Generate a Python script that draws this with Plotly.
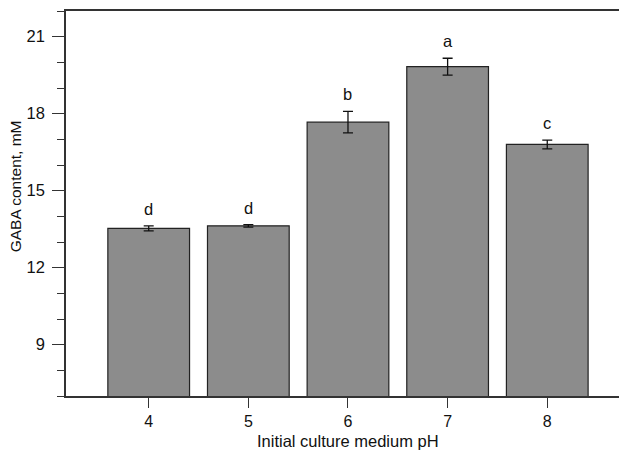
import plotly.graph_objects as go

# GABA content by initial culture medium pH
ph_values = [4, 5, 6, 7, 8]
gaba_mM = [13.53, 13.63, 17.67, 19.83, 16.80]
gaba_sd = [0.10, 0.05, 0.42, 0.33, 0.17]
group_letters = ["d", "d", "b", "a", "c"]
y_ticks = [9, 12, 15, 18, 21]

FONT = "Liberation Sans, Arial, Helvetica, sans-serif"
AXIS_COLOR = "#333333"
TEXT_SIZE = 16.5

fig = go.Figure()
fig.add_trace(go.Bar(
    x=ph_values,
    y=gaba_mM,
    width=0.82,
    marker=dict(color="#8c8c8c", line=dict(color="#222222", width=1.2)),
    error_y=dict(type="data", array=gaba_sd, visible=True,
                 color="#111111", thickness=1.3, width=5),
    showlegend=False,
))

# significance letters above each error bar
for x, y, e, t in zip(ph_values, gaba_mM, gaba_sd, group_letters):
    fig.add_annotation(x=x, y=y + e, text=t, showarrow=False,
                       yanchor="middle", yshift=17,
                       font=dict(family=FONT, size=TEXT_SIZE, color="#111111"))

fig.add_annotation(xref="paper", yref="paper", x=0.51, y=-0.117,
                   text="Initial culture medium pH", showarrow=False,
                   xanchor="center", yanchor="middle", borderpad=0,
                   font=dict(family=FONT, size=16.5, color="#111111"))
fig.add_annotation(xref="paper", yref="paper", x=-0.092, y=0.545,
                   text="GABA content, mM", showarrow=False, textangle=-90,
                   xanchor="center", yanchor="middle",
                   font=dict(family=FONT, size=15.5, color="#111111"))

fig.update_layout(
    width=619, height=450,
    margin=dict(l=66, r=0, t=11, b=54),
    paper_bgcolor="white", plot_bgcolor="white",
    font=dict(family=FONT, size=TEXT_SIZE, color="#111111"),
    xaxis=dict(range=[3.17, 8.72], tickvals=ph_values,
               ticks="outside", ticklen=10, tickwidth=1.3, tickcolor=AXIS_COLOR,
               tickfont=dict(size=16),
               showline=True, linecolor=AXIS_COLOR, linewidth=2, mirror=True,
               showgrid=False, zeroline=False),
    yaxis=dict(range=[7, 22], tickvals=y_ticks,
               ticks="outside", ticklen=12, tickwidth=1.3, tickcolor=AXIS_COLOR,
               ticklabelstandoff=4,
               minor=dict(dtick=1, tick0=0, ticks="outside", ticklen=7,
                          tickwidth=1.3, tickcolor=AXIS_COLOR, showgrid=False),
               showline=True, linecolor=AXIS_COLOR, linewidth=1.5,
               showgrid=False, zeroline=False),
)

fig.write_html("out.html")
